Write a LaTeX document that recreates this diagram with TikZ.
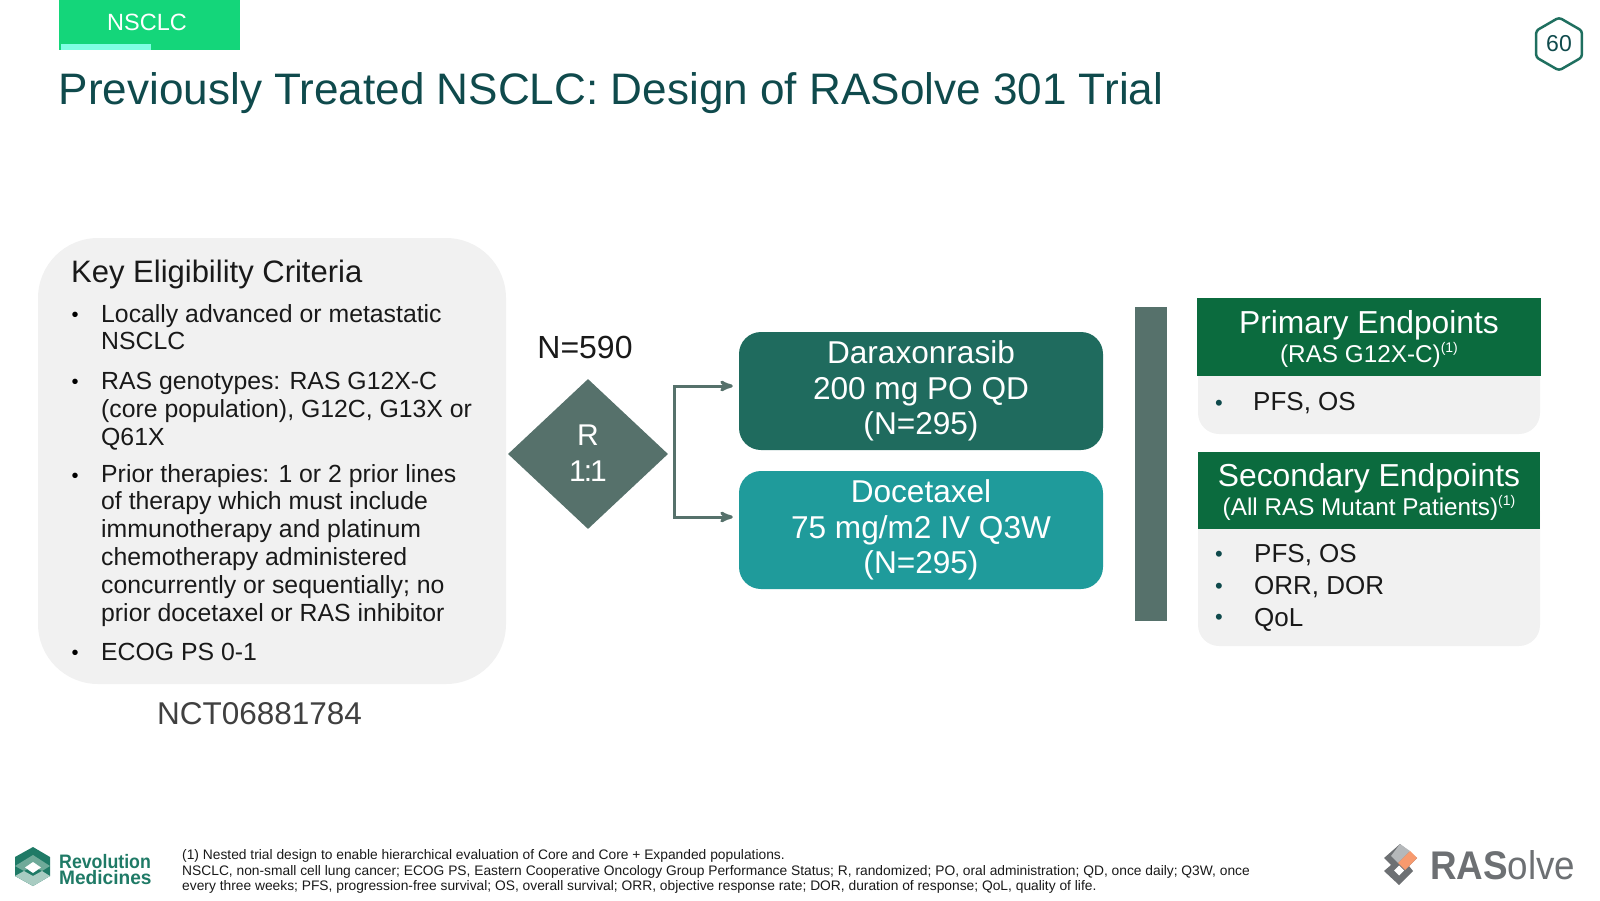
\documentclass[tikz,border=0pt]{standalone}
\usepackage{fontspec}
\setmainfont{Liberation Sans}
\usetikzlibrary{arrows,shapes.geometric}

\definecolor{tabgreen}{HTML}{14D67A}
\definecolor{tabmint}{HTML}{7FFFE3}
\definecolor{titleteal}{HTML}{0F4A4C}
\definecolor{hexgreen}{HTML}{1F6F5F}
\definecolor{panelgray}{HTML}{F1F1F1}
\definecolor{slate}{HTML}{56716B}
\definecolor{daragreen}{HTML}{1F6B5E}
\definecolor{docteal}{HTML}{1F9B9B}
\definecolor{headgreen}{HTML}{0B6B3E}
\definecolor{revgreen}{HTML}{1F7A66}
\definecolor{revlight}{HTML}{6FAA99}
\definecolor{rasgray}{HTML}{6D7073}
\definecolor{raslight}{HTML}{B5B8BA}
\definecolor{rasorange}{HTML}{F79A6E}

\newcommand{\fs}[1]{\fontsize{#1}{#1}\selectfont}
\newcommand{\notemark}[1]{\raisebox{.42em}{\fs{14}#1}}
\newcommand{\squeeze}[2]{\scalebox{#1}[1]{#2}}

\begin{document}
\begin{tikzpicture}[x=1pt,y=-1pt,>=stealth',inner sep=0pt,
  panel/.style={rectangle,fill=panelgray,rounded corners=21pt},
  armbox/.style={rectangle,rounded corners=22pt,minimum width=364pt,minimum height=118pt,
    text=white,align=center,font=\fontsize{31.6}{35.6}\selectfont},
  headbox/.style={rectangle,fill=headgreen,text=white,align=center},
  crit/.style={anchor=north west,align=left,text=black!90,font=\fontsize{24.8}{27.8}\selectfont},
  critdot/.style={anchor=center,text=black,font=\fs{20}},
  ept/.style={anchor=base west,text=black!90,font=\fs{26}},
  eptdot/.style={anchor=center,text=titleteal,font=\fs{22}},
  arm/.style={->,draw=slate,line width=3pt,shorten >=6pt}]
 \useasboundingbox (0,0) rectangle (1600,900);

 % header
 \node[rectangle,fill=tabgreen,minimum width=181pt,minimum height=50pt] (tab) at (149.5,25) {};
 \node[rectangle,fill=tabmint,minimum width=90pt,minimum height=6pt] (tabstrip) at (106,47) {};
 \node[text=white,font=\fs{23.5}] (tabtext) at (147,22) {NSCLC};
 \node[anchor=base west,text=titleteal,font=\fs{44.1}] (title) at (58.5,104) {Previously Treated NSCLC: Design of RASolve 301 Trial};
 \node[regular polygon,regular polygon sides=6,shape border rotate=30,draw=hexgreen,line width=2.5pt,
   rounded corners=3pt,minimum size=53pt] (pagehex) at (1559,44) {};
 \node[text=titleteal,font=\fs{23}] (pagenum) at (1559,44) {60};

 % eligibility panel
 \node[rectangle,fill=panelgray,rounded corners=60pt,minimum width=468pt,minimum height=446pt] (keybox) at (272,461) {};
 \node[anchor=base west,text=black!90,font=\fs{31}] (keytitle) at (71,282) {Key Eligibility Criteria};
 \node[crit] (crit1) at (101,304) {Locally advanced or metastatic\\NSCLC};
 \node[crit] (crit2) at (101,372) {RAS genotypes: RAS G12X-C\\(core population), G12C, G13X or\\Q61X};
 \node[crit] (crit3) at (101,464) {Prior therapies: 1 or 2 prior lines\\of therapy which must include\\immunotherapy and platinum\\chemotherapy administered\\concurrently or sequentially; no\\prior docetaxel or RAS inhibitor};
 \node[crit] (crit4) at (101,643) {ECOG PS 0-1};
 \foreach \i/\ypos in {1/317,2/384,3/478,4/655}
   \node[critdot] (dot\i) at (75,\ypos) {•};
 \node[text=black!75,font=\fs{31.5}] (nct) at (259.5,713.5) {NCT06881784};

 % randomisation
 \node[text=black!90,font=\fs{32}] (nlabel) at (585,347.5) {N=590};
 \node[diamond,fill=slate,aspect=1.07,minimum width=160pt,minimum height=150pt] (rand) at (588,454) {};
 \node[text=white,align=center,font=\fontsize{30}{36.5}\selectfont] (randtext) at (588,453) {R\\1\kern-2pt:\kern-2pt1};

 \node[armbox,fill=daragreen] (dara) at (921,391) {Daraxonrasib\\200 mg PO QD\\(N=295)};
 \node[armbox,fill=docteal,below of=dara,node distance=139pt] (doce) {Docetaxel\\75 mg/m2 IV Q3W\\(N=295)};

 \coordinate (fork) at ([xshift=6pt]rand.east);
 \coordinate (daraport) at ([yshift=5pt]dara.west);
 \coordinate (doceport) at ([yshift=13pt]doce.west);
 \draw[arm] (fork) |- (daraport);
 \draw[arm] (fork) |- (doceport);

 \node[rectangle,fill=slate,minimum width=32pt,minimum height=314pt] (bar) at (1151,464) {};

 % endpoints
 \node[panel,minimum width=342pt,minimum height=98pt] (primbody) at (1369,385) {};
 \node[headbox,minimum width=344pt,minimum height=78pt] (primhead) at (1369,337) {};
 \node[text=white,font=\fs{31.8}] (primtitle) at (1369,325) {Primary Endpoints};
 \node[text=white,font=\fs{24.3}] (primsub) at (1369,355) {(RAS G12X-C)\notemark{(1)}};
 \node[eptdot] (primdot) at (1219,405) {•};
 \node[ept] (primpfs) at (1253,410.5) {PFS, OS};

 \node[panel,minimum width=342pt,minimum height=156pt] (secbody) at (1369,568) {};
 \node[headbox,minimum width=342pt,minimum height=77pt] (sechead) at (1369,490.5) {};
 \node[text=white,font=\fs{31.8}] (sectitle) at (1369,478) {Secondary Endpoints};
 \node[text=white,font=\fs{24.3}] (secsub) at (1369,508) {(All RAS Mutant Patients)\notemark{(1)}};
 \foreach \i/\ypos/\dotpos/\lab in {1/562.5/556/{PFS, OS},2/594.5/588/{ORR, DOR},3/626/619/{QoL}} {
   \node[eptdot] (secdot\i) at (1219,\dotpos) {•};
   \node[ept] (sec\i) at (1254,\ypos) {\lab};
 }

 % footer
 \node[anchor=north west,align=left,text=black!90,font=\fontsize{13.8}{15.8}\selectfont] (foot) at (182,849)
   {(1) Nested trial design to enable hierarchical evaluation of Core and Core + Expanded populations.\\
    NSCLC, non-small cell lung cancer; ECOG PS, Eastern Cooperative Oncology Group Performance Status; R, randomized; PO, oral administration; QD, once daily; Q3W, once\\
    every three weeks; PFS, progression-free survival; OS, overall survival; ORR, objective response rate; DOR, duration of response; QoL, quality of life.};

 % revolution mark
 \fill[revgreen] (33,847)--(50,857)--(50,876)--(33,886)--(15,876)--(15,857)--cycle;
 \fill[revlight] (15,866)--(33,855)--(50,866)--(42,871)--(33,866)--(24,871)--cycle;
 \fill[revlight!60] (24,871)--(33,876)--(42,871)--(50,876)--(33,886)--(15,876)--cycle;
 \fill[white] (33,862)--(41,867.5)--(33,873)--(25,867.5)--cycle;
 \node[anchor=north west,align=left,text=revgreen,font=\bfseries\fontsize{19.5}{16}\selectfont] (revname) at (59,854)
   {\squeeze{.91}{Revolution}\\\squeeze{.98}{Medicines}};

 % rasolve mark
 \fill[rasgray] (1400,844)--(1417,858)--(1409,866)--(1413,871)--(1399,885)--(1384,871)--(1391,865)--(1384,858)--cycle;
 \fill[raslight] (1400,844)--(1410,851)--(1398,863)--(1391,856)--cycle;
 \fill[rasorange] (1410,851)--(1417,858)--(1405,870)--(1398,863)--cycle;
 \fill[white] (1399,865.5)--(1404,870.5)--(1399,875.5)--(1394,870.5)--cycle;
 \node[anchor=base west,text=rasgray,font=\fs{40}] (rasname) at (1430,879) {\squeeze{.92}{\textbf{RAS}olve}};
\end{tikzpicture}
\end{document}
